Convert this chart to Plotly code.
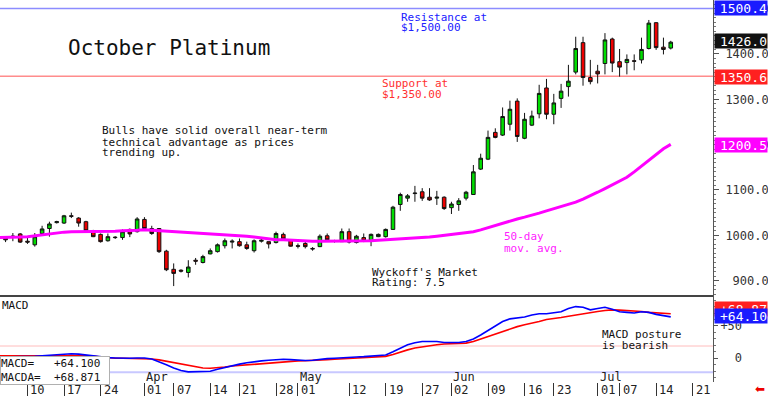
import plotly.graph_objects as go

# ---------------- data ----------------
day_index = list(range(-3, 89))   # trading-day positions (Mar 10 = 0)
opens = [994, 996, 1003, 987, 979, 1004, 1015, 1028, 1027, 1043, 1038, 1030, 1010, 1002, 988, 996, 995, 1013,
         1008, 1035, 1015, 1015, 965, 925, 923, 918, 945, 940, 959, 964, 977, 985, 986, 979, 966, 987, 986, 984,
         1002, 990, 977, 982, 971, 975, 999, 987, 986, 1008, 984, 995, 988, 997, 997, 1013, 1068, 1082, 1092,
         1096, 1084, 1082, 1084, 1061, 1068, 1082, 1090, 1146, 1168, 1227, 1221, 1245, 1296, 1214, 1243, 1268,
         1325, 1267, 1302, 1328, 1360, 1425, 1348, 1362, 1379, 1433, 1383, 1381, 1385, 1387, 1412, 1469, 1415, 1413]
highs = [997, 1005, 1005, 994, 1005, 1021, 1030, 1032, 1045, 1050, 1040, 1032, 1012, 1004, 1004, 998, 1013, 1015,
         1040, 1040, 1021, 1016, 968, 938, 925, 945, 950, 957, 971, 982, 993, 991, 993, 986, 991, 993, 986, 1008,
         1006, 991, 982, 986, 974, 1002, 1004, 990, 1015, 1015, 1001, 1004, 1004, 1004, 1015, 1065, 1094, 1091,
         1109, 1104, 1104, 1098, 1086, 1074, 1082, 1098, 1155, 1180, 1231, 1236, 1282, 1297, 1302, 1270, 1275,
         1332, 1345, 1312, 1334, 1376, 1438, 1438, 1387, 1376, 1446, 1436, 1411, 1399, 1399, 1436, 1475, 1470,
         1436, 1429]
lows = [985, 987, 983, 981, 975, 1003, 997, 1026, 1025, 1038, 1019, 1008, 996, 984, 986, 992, 990, 996, 1006,
        1013, 1001, 961, 921, 888, 918, 907, 935, 938, 958, 962, 971, 971, 975, 968, 962, 984, 971, 982, 988, 975,
        971, 971, 966, 974, 986, 984, 986, 982, 982, 985, 976, 996, 995, 1012, 1054, 1074, 1074, 1076, 1076, 1067,
        1056, 1047, 1054, 1077, 1089, 1144, 1166, 1214, 1219, 1231, 1206, 1212, 1241, 1258, 1256, 1245, 1281, 1306,
        1355, 1330, 1333, 1335, 1355, 1360, 1350, 1355, 1364, 1379, 1410, 1409, 1399, 1410]
closes = [990, 998, 985, 985, 997, 1014, 1025, 1030, 1043, 1042, 1027, 1010, 997, 986, 997, 995, 1008, 1003,
          1036, 1015, 1004, 964, 924, 916, 921, 930, 943, 953, 966, 979, 988, 987, 977, 971, 988, 989, 981, 1004,
          992, 976, 976, 975, 970, 998, 990, 988, 1008, 985, 998, 988, 1002, 1002, 1013, 1062, 1090, 1087, 1093,
          1082, 1078, 1084, 1059, 1069, 1076, 1095, 1140, 1170, 1216, 1216, 1262, 1278, 1218, 1256, 1263, 1313,
          1267, 1292, 1318, 1340, 1412, 1348, 1339, 1356, 1431, 1380, 1371, 1388, 1384, 1410, 1468, 1414, 1410, 1426]

ma_index = list(range(-4, 89))
ma50 = [995, 995, 996, 996, 997, 999, 1001, 1004, 1006, 1007, 1008, 1008, 1008, 1008, 1008, 1009, 1009, 1010,
        1010, 1011, 1012, 1011, 1010, 1009, 1008, 1007, 1007, 1006, 1005, 1004, 1003, 1002, 1001, 999, 998, 996,
        994, 992, 990, 990, 989, 988, 988, 987, 987, 987, 987, 987, 987, 987, 987, 988, 989, 990, 991, 992, 993,
        993, 995, 996, 998, 1000, 1002, 1004, 1006, 1008, 1012, 1017, 1022, 1027, 1032, 1036, 1040, 1044, 1049,
        1054, 1059, 1064, 1068, 1073, 1080, 1087, 1095, 1103, 1111, 1119, 1128, 1140, 1153, 1167, 1180, 1191, 1200.5]
macd = [2, 2, 2.5, 2.5, 2.5, 3, 4, 5, 5.5, 6.5, 7, 6.5, 5, 3.5, 2, 1, 0.5, 0, 0, 0.5, 0.5, -1, -5, -10, -15,
        -19, -21, -21, -21, -20, -17, -14, -11, -9, -7, -5, -4, -3, -2, -1.5, -2, -3, -3.5, -3, -1.5, -0.5, 0, 1,
        1.5, 2, 2.5, 3, 3.5, 5, 10, 16, 21, 24, 26, 26, 26, 24.5, 24, 24.5, 26, 30, 36, 43, 50, 57, 61, 62, 64, 67,
        69, 69, 70, 72, 77, 80, 79, 75, 77, 79, 76, 72, 71, 70, 72, 71, 68, 66, 64.1]
macda = [4, 4, 4, 3.5, 3, 3, 3, 3.5, 3.5, 4, 4.5, 4.5, 4, 3.5, 2, 0.5, 0, 0, 0, 0, 0, -1, -2.5, -4.5, -6.5, -9,
         -11.5, -13.5, -15, -15.5, -15, -13.5, -12, -11, -10, -9, -8, -7, -6, -5, -4.5, -4, -3.7, -3.5, -3, -2,
         -1.5, -1, -0.5, 0, 0.5, 1, 1.5, 3, 6, 10, 13, 16, 18, 19.5, 21, 22, 22.5, 23, 23.5, 26, 30, 34, 38, 42, 45,
         49, 52, 54, 57, 60, 61, 63, 65, 67, 69.5, 71, 72.5, 74, 75, 74.5, 74, 73.7, 72.5, 71, 70, 69.5, 68.871]

tick_pos = [0, 5, 10, 16, 20, 25, 29, 34, 37, 44, 49, 54, 58, 63, 68, 72, 78, 81, 86, 91]
tick_labels = ["10", "17", "24", "01", "07", "14", "21", "28", "01", "12", "19", "27", "02", "09", "16", "23",
               "01", "07", "14", "21"]
month_pos = [16, 37, 58, 78]
month_labels = ["Apr", "May", "Jun", "Jul"]
price_ticks = [900, 1000, 1100, 1200, 1300, 1400, 1500]
price_tick_text = ["\u00a0900.0", "1000.0", "1100.0", "1200.0", "1300.0", "1400.0", "1500.0"]
macd_ticks = [0, 50]
macd_tick_text = ["\u00a0\u00a00", "+50"]
resistance = 1500.4
support = 1350.6
last_close = 1426.0
ma_last = 1200.5
macd_last = 64.100
macda_last = 68.871
macd_ref_level = 19
macd_floor_level = -21.7

# ---------------- layout geometry ----------------
W, H = 768, 396
ML, MR, MT, MB = 0, 55, 0, 14
PW, PH = W - ML - MR, H - MT - MB
MONO = "DejaVu Sans Mono"


def px_x(px):
    return (px - ML) / PW


def px_y(py):
    return (PH + MT - py) / PH


split = px_y(296)

fig = go.Figure()

fig.add_trace(go.Scatter(x=ma_index, y=ma50, mode="lines", line=dict(color="#ff00ff", width=3),
                         xaxis="x", yaxis="y", hoverinfo="skip", showlegend=False))
fig.add_trace(go.Candlestick(x=day_index, open=opens, high=highs, low=lows, close=closes,
                             increasing=dict(fillcolor="#00dd00", line=dict(color="#111111", width=1)),
                             decreasing=dict(fillcolor="#ee0000", line=dict(color="#111111", width=1)),
                             whiskerwidth=0, xaxis="x", yaxis="y", hoverinfo="skip", showlegend=False))
fig.add_trace(go.Scatter(x=ma_index, y=macda, mode="lines", line=dict(color="#ff0000", width=1.6),
                         xaxis="x2", yaxis="y2", hoverinfo="skip", showlegend=False))
fig.add_trace(go.Scatter(x=ma_index, y=macd, mode="lines", line=dict(color="#0000ff", width=1.6),
                         xaxis="x2", yaxis="y2", hoverinfo="skip", showlegend=False))

xr = [-3.76, 93.78]
fig.update_layout(
    width=W, height=H, margin=dict(l=ML, r=MR, t=MT, b=MB),
    paper_bgcolor="white", plot_bgcolor="white", showlegend=False,
    xaxis=dict(domain=[0, 1], anchor="y", range=xr, showticklabels=False, showgrid=False, zeroline=False,
               ticks="", rangeslider=dict(visible=False)),
    xaxis2=dict(domain=[0, 1], anchor="y2", matches="x", range=xr, showticklabels=False, showgrid=False,
                zeroline=False, tickvals=tick_pos, ticks="outside", ticklen=13, tickcolor="#333333",
                tickwidth=1),
    yaxis=dict(domain=[split, 1], anchor="x", side="right", range=[866.1, 1519.05], showgrid=False,
               zeroline=False, showline=True, linecolor="#555555", linewidth=1, tickvals=price_ticks,
               ticktext=price_tick_text, ticks="outside", ticklen=5, tickcolor="#555555",
               tickfont=dict(family=MONO, size=12, color="#333333"), ticklabelstandoff=4,
               minor=dict(dtick=10, ticks="outside", ticklen=2, tickcolor="#777777"), automargin=False),
    yaxis2=dict(domain=[0, split], anchor="x2", side="right", range=[-36.7, 96.4], showgrid=False,
                zeroline=False, showline=True, linecolor="#555555", linewidth=1, tickvals=macd_ticks,
                ticktext=macd_tick_text, ticks="outside", ticklen=4, tickcolor="#555555",
                tickfont=dict(family=MONO, size=12, color="#333333"), ticklabelstandoff=0,
                minor=dict(dtick=10, ticks="outside", ticklen=2, tickcolor="#777777"), automargin=False),
)

shapes = [
    dict(type="line", xref="paper", yref="y", x0=0, x1=1, y0=resistance, y1=resistance,
         line=dict(color="#8c8cff", width=1.5), layer="below"),
    dict(type="line", xref="paper", yref="y", x0=0, x1=1, y0=support, y1=support,
         line=dict(color="#ff8c8c", width=1.5), layer="below"),
    dict(type="line", xref="paper", yref="y2", x0=0, x1=1, y0=macd_ref_level, y1=macd_ref_level,
         line=dict(color="#ffbcbc", width=1), layer="below"),
    dict(type="line", xref="paper", yref="y2", x0=0, x1=1, y0=macd_floor_level, y1=macd_floor_level,
         line=dict(color="#c8c8ff", width=2), layer="below"),
    dict(type="line", xref="paper", yref="paper", x0=0, x1=1, y0=split, y1=split,
         line=dict(color="#444444", width=2)),
]
fig.update_layout(shapes=shapes)

ann = []


def text(px, py, s, color="#111111", size=11, anchor="left"):
    ann.append(dict(xref="paper", yref="paper", x=px_x(px), y=px_y(py), text=s, showarrow=False,
                    xanchor=anchor, yanchor="middle", font=dict(family=MONO, size=size, color=color)))


text(66, 48, "October Platinum", size=21)
text(399, 17, "Resistance at", color="#2020ff")
text(399, 28, "$1,500.00", color="#2020ff")
text(380, 83, "Support at", color="#ff3030")
text(380, 94, "$1,350.00", color="#ff3030")
text(100, 131, "Bulls have solid overall near-term")
text(100, 142, "technical advantage as prices")
text(100, 153, "trending up.")
text(502, 237, "50-day", color="#ff22ff")
text(502, 248, "mov. avg.", color="#ff22ff")
text(370, 272, "Wyckoff's Market")
text(370, 283, "Rating: 7.5")
text(600, 334, "MACD posture")
text(600, 345, "is bearish")
text(0, 305, "MACD")

# legend box of MACD values
ann.append(dict(xref="paper", yref="paper", x=0, y=px_y(356), xanchor="left", yanchor="top",
                text="MACD=\u00a0\u00a0\u00a0+64.100<br>MACDA=\u00a0\u00a0+68.871", align="left",
                showarrow=False, bgcolor="white", bordercolor="#b0b0b0", borderwidth=1, borderpad=0,
                width=108, font=dict(family=MONO, size=11, color="#111111")))

# date labels and month labels
for p, lab in zip(tick_pos, tick_labels):
    ann.append(dict(xref="x2", yref="paper", x=p, y=px_y(389.5), xanchor="left", yanchor="middle", xshift=1,
                    text=lab, showarrow=False, font=dict(family=MONO, size=12, color="#222222")))
for p, lab in zip(month_pos, month_labels):
    ann.append(dict(xref="x2", yref="paper", x=p, y=px_y(377), xanchor="left", yanchor="middle", xshift=0,
                    text=lab, showarrow=False, font=dict(family=MONO, size=12, color="#222222")))


def box(yref, val, label, bg, yshift=0):
    ann.append(dict(xref="paper", yref=yref, x=px_x(714), y=val, xanchor="left", yanchor="middle",
                    yshift=yshift, text=label, showarrow=False, bgcolor=bg, width=52, height=14,
                    align="right", borderpad=0, font=dict(family=MONO, size=13, color="white")))


box("y", resistance, f"{resistance:.1f}", "#1a1aff")
box("y", last_close, f"{last_close:.1f}", "#111111", yshift=1)
box("y", support, f"{support:.1f}", "#ff2020", yshift=-1)
box("y", ma_last, f"{ma_last:.1f}", "#ff00ff", yshift=-1)
box("y2", macda_last, f"+{macda_last:.2f}", "#ff2020", yshift=5)
box("y2", macd_last, f"+{macd_last:.2f}", "#1a1aff", yshift=1)

ann.append(dict(xref="paper", yref="paper", x=px_x(760), y=px_y(389), xanchor="center", yanchor="middle",
                text="\u2b05", showarrow=False, font=dict(family="DejaVu Sans", size=12, color="#ee0000")))

fig.update_layout(annotations=ann)
fig.write_html("out.html", config={"displayModeBar": False, "staticPlot": True},
               post_script="document.body.style.margin='0';document.body.style.padding='0';")
